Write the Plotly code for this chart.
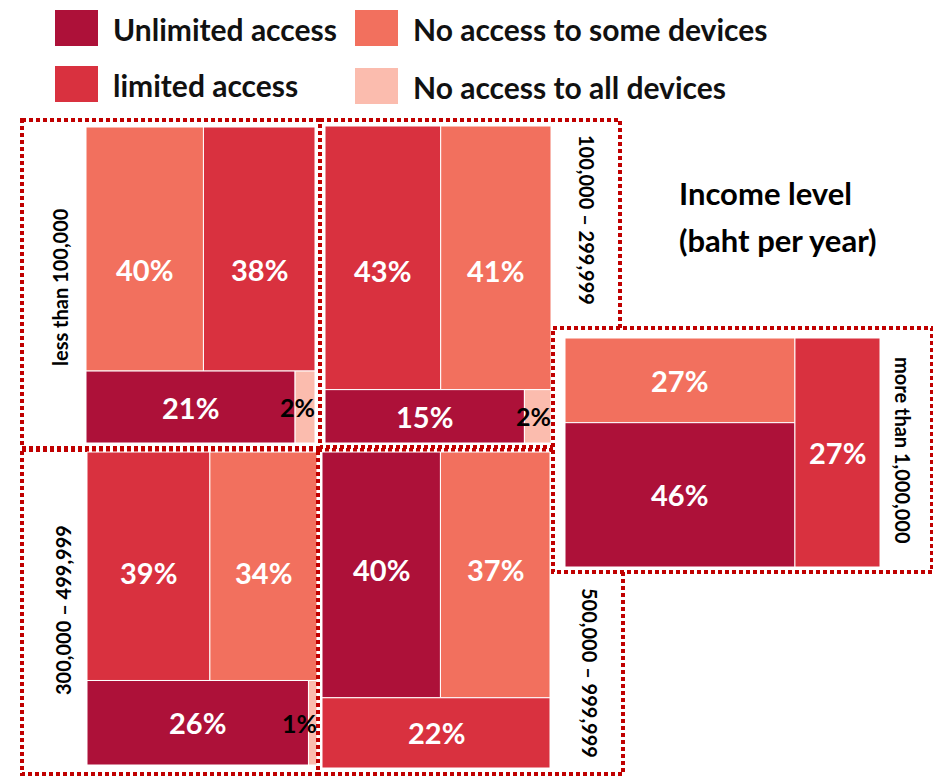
import plotly.graph_objects as go

# Internet access by household income level (% of households)
categories = ["Unlimited access", "limited access",
              "No access to some devices", "No access to all devices"]
income_levels = ["less than 100,000", "100,000 – 299,999", "300,000 – 499,999",
                 "500,000 – 999,999", "more than 1,000,000"]

unlimited = [21, 15, 26, 40, 46]
limited = [38, 43, 39, 22, 27]
no_some = [40, 41, 34, 37, 27]
no_all = [2, 2, 1, 0, 0]

colors = ["#AD1139", "#D9313F", "#F2705E", "#FBBCAE"]
BORDER = "#C00000"
FONT = "Lato"

series = [unlimited, limited, no_some, no_all]

# Panel layout: outer frame, tile box, grouping of categories, label placement,
# and a vertical nudge for the labels of the first tile group
panels = [
    dict(frame=(22, 120, 322, 448), box=(86, 127, 315, 443), split="rows",
         groups=[[2, 1], [0, 3]], label=(60, 287, -90), nudge=20),
    dict(frame=(320, 120, 620, 447), box=(325, 126, 551, 443), split="rows",
         groups=[[1, 2], [0, 3]], label=(587, 220, 90), nudge=13),
    dict(frame=(22, 450, 320, 774), box=(87, 452, 317, 765), split="rows",
         groups=[[1, 2], [0, 3]], label=(63, 610, -90), nudge=6),
    dict(frame=(318, 450, 623, 774), box=(322, 452, 550, 768), split="rows",
         groups=[[0, 2], [1]], label=(590, 673, 90), nudge=-5),
    dict(frame=(553, 328, 932, 572), box=(565, 338, 880, 567), split="cols",
         groups=[[2, 0], [1]], label=(903, 450, 90), nudge=0),
]


def tile(box, split, groups, vals):
    """Slice-and-dice tiles sized by value inside box (x0, y0, x1, y1)."""
    x0, y0, x1, y1 = box
    groups = [[c for c in g if vals[c] > 0] for g in groups]
    total = sum(vals[c] for g in groups for c in g)
    out = []
    pos = y0 if split == "rows" else x0
    span = (y1 - y0) if split == "rows" else (x1 - x0)
    for gi, g in enumerate(groups):
        gsum = sum(vals[c] for c in g)
        size = span * gsum / total
        inner = x0 if split == "rows" else y0
        ispan = (x1 - x0) if split == "rows" else (y1 - y0)
        for c in g:
            isize = ispan * vals[c] / gsum
            if split == "rows":
                out.append((gi, c, inner, pos, inner + isize, pos + size))
            else:
                out.append((gi, c, pos, inner, pos + size, inner + isize))
            inner += isize
        pos += size
    return out


fig = go.Figure()
shapes = []
annotations = []

for i, p in enumerate(panels):
    vals = [s[i] for s in series]
    fx0, fy0, fx1, fy1 = p["frame"]
    shapes.append(dict(type="rect", xref="x", yref="y", x0=fx0, y0=fy0, x1=fx1, y1=fy1,
                       fillcolor="white",
                       line=dict(color=BORDER, width=4, dash="4px,3px")))
    for gi, c, x0, y0, x1, y1 in tile(p["box"], p["split"], p["groups"], vals):
        shapes.append(dict(type="rect", xref="x", yref="y", x0=x0, y0=y0, x1=x1, y1=y1,
                           fillcolor=colors[c], line=dict(color="white", width=1)))
        small = vals[c] < 5
        dy = p["nudge"] if (gi == 0 and p["split"] == "rows") else 0
        annotations.append(dict(
            x=x1 + 2 if small else (x0 + x1) / 2, y=(y0 + y1) / 2 + dy,
            xref="x", yref="y", xanchor="right" if small else "center",
            text=f"<b>{vals[c]}%</b>", showarrow=False,
            font=dict(family=FONT, size=25 if small else 29,
                      color="black" if small else "white")))
    lx, ly, ang = p["label"]
    annotations.append(dict(x=lx, y=ly, xref="x", yref="y", text=f"<b>{income_levels[i]}</b>",
                            textangle=ang, showarrow=False,
                            font=dict(family=FONT, size=20, color="black")))

# Legend drawn as swatches with labels
legend_pos = [(55, 10), (55, 66), (355, 10), (355, 68)]
for c, (lx, ly) in enumerate(legend_pos):
    shapes.append(dict(type="rect", xref="x", yref="y", x0=lx, y0=ly, x1=lx + 43, y1=ly + 36,
                       fillcolor=colors[c], line=dict(width=0)))
    annotations.append(dict(x=lx + 56, y=ly + 19, xref="x", yref="y", xanchor="left",
                            text=f"<b>{categories[c]}</b>", showarrow=False,
                            font=dict(family=FONT, size=30, color="#111111")))

annotations.append(dict(x=677, y=193, xref="x", yref="y", xanchor="left",
                        text="<b>Income level</b>", showarrow=False,
                        font=dict(family=FONT, size=31, color="black")))
annotations.append(dict(x=677, y=240, xref="x", yref="y", xanchor="left",
                        text="<b>(baht per year)</b>", showarrow=False,
                        font=dict(family=FONT, size=31, color="black")))

fig.update_layout(
    width=933, height=777,
    margin=dict(l=0, r=0, t=0, b=0),
    paper_bgcolor="white", plot_bgcolor="white",
    xaxis=dict(range=[0, 933], visible=False, fixedrange=True),
    yaxis=dict(range=[777, 0], visible=False, fixedrange=True),
    shapes=shapes, annotations=annotations, showlegend=False,
)

fig.write_html("out.html")
